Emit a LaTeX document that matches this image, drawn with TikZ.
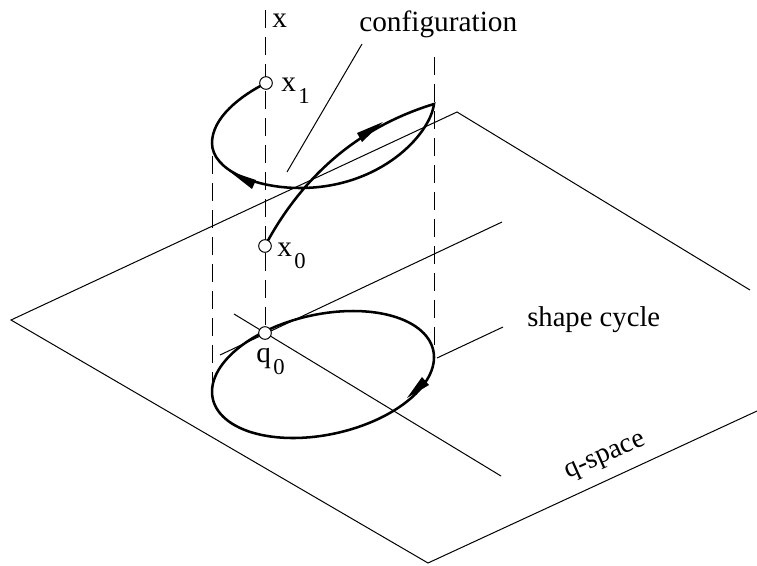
\documentclass[tikz,border=0pt]{standalone}
\usepackage{fontspec}
\setmainfont{Liberation Serif}
\newcommand{\subidx}[1]{\kern.08em\raisebox{-.42em}{\fontsize{17}{18}\selectfont #1}}
\tikzset{
  thinline/.style={line width=.75pt},
  dashline/.style={line width=.75pt,dash pattern=on 13.5pt off 6.75pt},
  pathline/.style={line width=1.9pt,line cap=round},
  headfill/.style={fill=black},
  endpt/.style={circle,draw,fill=white,line width=.75pt,inner sep=0pt,minimum size=9.5pt},
  lbl/.style={inner sep=0pt,font=\fontsize{22}{24}\selectfont}
}
\begin{document}
\begin{tikzpicture}[x=.75pt,y=-.75pt]
  \useasboundingbox (0,0) rectangle (757,565);
  % q-space
  \coordinate (pl) at (11,320); \coordinate (pt) at (457,112); \coordinate (pr) at (750,290); \coordinate (pb) at (428,563); \coordinate (pe) at (757,411);
  \draw[thinline] (pr)--(pt)--(pl)--(pb)--(pe);
  % axes through q0
  \coordinate (a1) at (220,355); \coordinate (a2) at (502,222); \coordinate (b1) at (234,314); \coordinate (b2) at (501,476);
  \draw[thinline] (a1)--(a2) (b1)--(b2);
  % vertical lines
  \coordinate (xtop) at (265,10); \coordinate (ltop) at (212,156); \coordinate (lbot) at (212,392); \coordinate (rtop) at (434,57); \coordinate (rbot) at (434,357);
  \draw[dashline] (xtop)--(265,333) (ltop)--(lbot) (rtop)--(rbot);
  % shape cycle
  \draw[pathline] plot[domain=0:360,samples=120,smooth cycle] ({323+111*cos(\x)},{374.5+63.5*sin(\x-15.7)});
  \fill[headfill] (407,398)--(422,377)--(429,385)--cycle;
  % configuration
  \coordinate (c0) at (265,246); \coordinate (c1) at (434,104); \coordinate (c2) at (300,188); \coordinate (c3) at (212,143); \coordinate (c4) at (266,83);
  \draw[pathline] (c0) .. controls (300,180) and (355,128) .. (c1) .. controls (430,135) and (380,188) .. (c2) .. controls (255,188) and (212,170) .. (c3) .. controls (212,118) and (240,96) .. (c4);
  \fill[headfill] (229,171)--(256,180)--(252,189)--cycle;
  \fill[headfill] (383,122)--(357,133)--(362,142)--cycle;
  % end points
  \node[endpt] (x1) at (c4) {}; \node[endpt] (x0) at (c0) {}; \node[endpt] (q0) at (265,333) {};
  % labels
  \node[lbl,anchor=base west] (xl) at (272,27) {x};
  \node[lbl,anchor=base west] (x1l) at (281,91) {x\subidx{1}};
  \node[lbl,anchor=base west] (x0l) at (277,256) {x\subidx{0}};
  \node[lbl,anchor=base west] (q0l) at (256,362) {q\subidx{0}};
  \node[lbl,anchor=base west] (cfg) at (359,31) {configuration};
  \node[lbl,anchor=base west,font=\fontsize{21.5}{24}\selectfont] (shp) at (527,326) {shape cycle};
  \node[lbl,anchor=base west,rotate=24,font=\fontsize{21}{24}\selectfont] (qsp) at (568,479) {q-space};
  % leaders
  \coordinate (l1) at (362,44); \coordinate (l2) at (287,172); \coordinate (l3) at (503,327); \coordinate (l4) at (437,358);
  \draw[thinline] (l1)--(l2) (l3)--(l4);
\end{tikzpicture}
\end{document}
